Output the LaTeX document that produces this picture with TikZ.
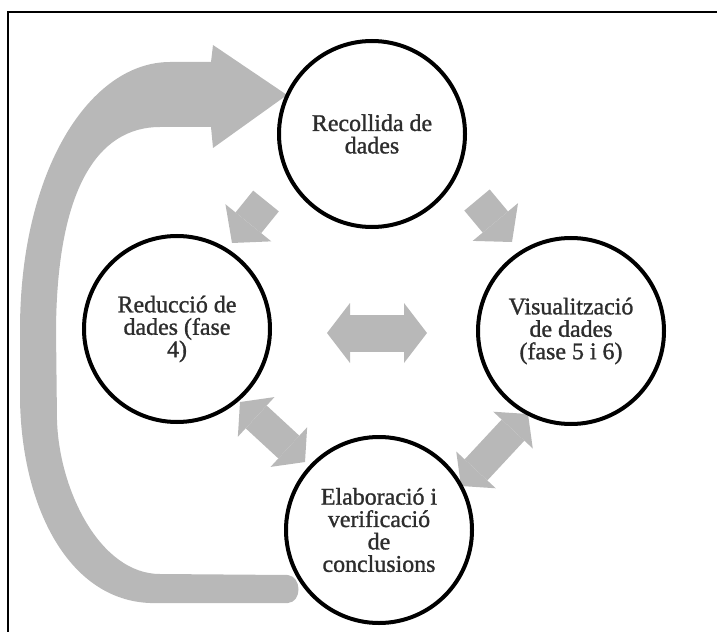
\documentclass[tikz,border=0pt]{standalone}
\usepackage{fontspec}
\setmainfont{Liberation Serif}
\newfontfamily\phasefont[FakeBold=1.2]{Liberation Serif}
\usepackage{tikz}
\usetikzlibrary{arrows.meta, positioning}
\usepackage{xcolor}
\definecolor{arrowgray}{RGB}{184,184,184}
\definecolor{textgray}{RGB}{45,45,45}
\pgfdeclarelayer{background}
\pgfsetlayers{background,main}

\begin{document}
\begin{tikzpicture}[x=1bp,y=-1bp]
    \tikzstyle{phase}=[shape=circle,draw=black,fill=white,line width=4bp,minimum size=186bp,inner sep=0pt,align=center,text=textgray,font=\phasefont\fontsize{24}{22.5}\selectfont]
    \tikzstyle{flow}=[draw=arrowgray,line width=33bp,-{Triangle[length=26bp,width=59bp,line width=0pt]}]
    \tikzstyle{twoway}=[draw=arrowgray,line width=31bp,{Triangle[length=22bp,width=54bp,line width=0pt]}-{Triangle[length=22bp,width=54bp,line width=0pt]}]

    \useasboundingbox (0,0) rectangle (717,632);
    \draw[line width=1.2bp] (8,632) -- (8,12) -- (717,12);

    \node[phase] (rec) at (372,134) {Recollida de\\dades};
    \node[phase] (red) at (177,329) {Reducció de\\dades (fase\\4)};
    \node[phase] (vis) at (571,331) {Visualització\\de dades\\(fase 5 i 6)};
    \node[phase] (ela) at (379,530) {Elaboració i\\verificació\\de\\conclusions};

    % arrow ends between the phases
    \coordinate (r1) at (266,201);
    \coordinate (r2) at (232,243);
    \coordinate (v1) at (477,200);
    \coordinate (v2) at (512,242);
    \coordinate (m1) at (327,333);
    \coordinate (m2) at (427,333);
    \coordinate (e1) at (240,402);
    \coordinate (e2) at (305,462);
    \coordinate (f1) at (461,486);
    \coordinate (f2) at (528,414);

    \begin{pgfonlayer}{background}
    % return arrow from the conclusions back to the data
    \fill[arrowgray] (150,603) .. controls (70,600) and (22,510) .. (20,400)
        -- (20,330) .. controls (20,170) and (90,62) .. (170,62)
        -- (211,62) -- (213,45) -- (287,95) -- (213,148) -- (211,127)
        -- (160,127) .. controls (97,127) and (57,190) .. (56,330)
        -- (57,420) .. controls (59,490) and (100,574) .. (160,574)
        -- (288,575) .. controls (302,577) and (302,602) .. (288,603) -- cycle;

    \path[flow] (r1) -- (r2);
    \path[flow] (v1) -- (v2);
    \path[twoway,line width=37bp,{Triangle[length=23bp,width=60bp,line width=0pt]}-{Triangle[length=23bp,width=60bp,line width=0pt]}] (m1) -- (m2);
    \path[twoway] (e1) -- (e2);
    \path[twoway] (f1) -- (f2);
    \end{pgfonlayer}
\end{tikzpicture}
\end{document}
